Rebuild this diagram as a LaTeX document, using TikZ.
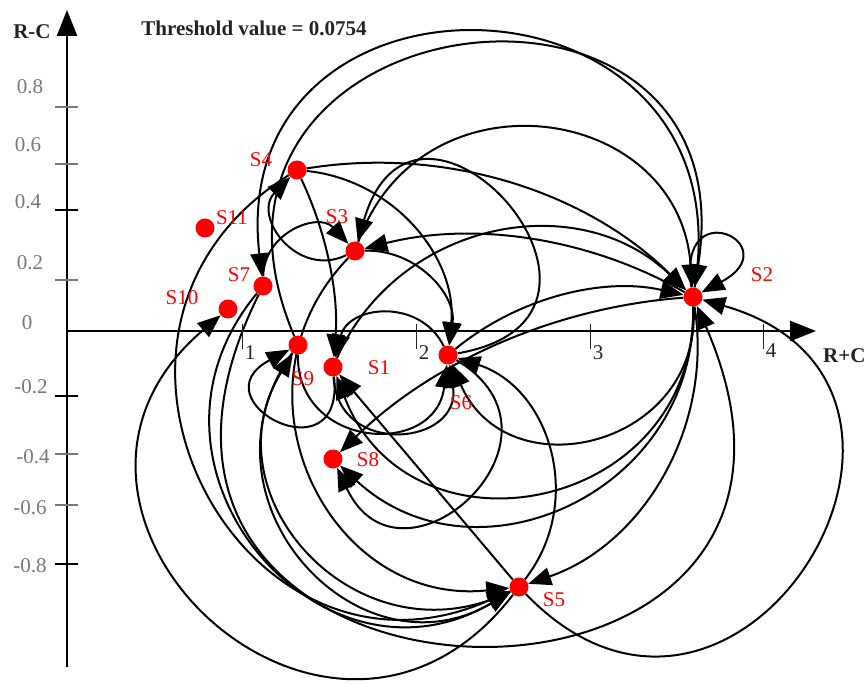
\documentclass[tikz,border=0pt]{standalone}
\usepackage{fontspec}
\setmainfont{Liberation Serif}
\usetikzlibrary{arrows.meta}
\pgfdeclarelayer{bg}
\pgfsetlayers{bg,main}
\definecolor{tickgray}{RGB}{120,120,120}
\definecolor{darktext}{RGB}{35,35,35}
\begin{document}
\begin{tikzpicture}[x=1pt,y=-1pt,
  dot/.style={circle,fill=red,draw=none,inner sep=0pt,minimum size=19pt},
  lab/.style={text=red,font=\fontsize{21}{24}\selectfont,inner sep=0pt},
  ticklab/.style={text=tickgray,font=\fontsize{21}{24}\selectfont,inner sep=0pt},
  axislab/.style={text=darktext,font=\bfseries\fontsize{21}{24}\selectfont,inner sep=0pt},
  edge/.style={line width=2pt,-{Triangle[length=23pt,width=18pt]}},
  axisline/.style={line width=2.5pt,-{Triangle[length=26pt,width=20pt]}},
  tickmark/.style={line width=1.6pt},
  arcb/.code={\pgfmathsetmacro\arcL{(4/3)*tan(abs(#1)/2)/(2*sin(abs(#1)))/0.3915}%
    \edef\arctmp{\noexpand\pgfkeysalso{/tikz/bend left=#1,/tikz/looseness=\arcL}}\arctmp}]
\useasboundingbox (0,0) rectangle (866,684);

% axes
\coordinate (yb) at (67,667);
\coordinate (yt) at (67,10);
\coordinate (xl) at (67,331);
\coordinate (xr) at (816,331);
\draw[axisline] (yb) -- (yt);
\draw[axisline] (xl) -- (xr);

% y ticks
\foreach \yy/\cc in {107/tickgray,164/tickgray,210/black,280/tickgray,396/black,454/tickgray,505/tickgray,564/black}
  \draw[tickmark,draw=\cc] (55,\yy) -- (78,\yy);
\node[ticklab] (t08) at (30,87) {0.8};
\node[ticklab] (t06) at (28,145) {0.6};
\node[ticklab] (t04) at (28,202) {0.4};
\node[ticklab] (t02) at (30,263) {0.2};
\node[ticklab] (t00) at (27,323) {0};
\node[ticklab] (tm02) at (31,387) {-0.2};
\node[ticklab] (tm04) at (33,457) {-0.4};
\node[ticklab] (tm06) at (30,508) {-0.6};
\node[ticklab] (tm08) at (30,566) {-0.8};

% x ticks
\foreach \xx in {242,416,590,763}
  \draw[line width=1pt,draw=darktext] (\xx,324) -- (\xx,349);
\node[ticklab,text=darktext] (x1) at (250,353) {1};
\node[ticklab,text=darktext] (x2) at (424,353) {2};
\node[ticklab,text=darktext] (x3) at (598,353) {3};
\node[ticklab,text=darktext] (x4) at (771,351) {4};

\node[axislab] (rc) at (32,32) {R-C};
\node[axislab,anchor=west] (rpc) at (823,356) {R+C};
\node[axislab] (thr) at (254,28) {Threshold value = 0.0754};

% nodes
\node[dot] (S4) at (297,170) {};
\node[dot] (S11) at (205,228) {};
\node[dot] (S3) at (355,251) {};
\node[dot] (S7) at (263,286) {};
\node[dot] (S10) at (228,309) {};
\node[dot] (S9) at (298,345) {};
\node[dot] (S1) at (333,367) {};
\node[dot] (S6) at (448,355) {};
\node[dot] (S2) at (693,297) {};
\node[dot] (S8) at (333,459) {};
\node[dot] (S5) at (519,587) {};

\node[lab] (L4) at (261,160) {S4};
\node[lab] (L11) at (232,218) {S11};
\node[lab] (L3) at (337,217) {S3};
\node[lab] (L7) at (239,275) {S7};
\node[lab] (L10) at (182,298) {S10};
\node[lab] (L9) at (303,379) {S9};
\node[lab] (L1) at (379,368) {S1};
\node[lab] (L8) at (368,460) {S8};
\node[lab] (L6) at (461,403) {S6};
\node[lab] (L5) at (554,600) {S5};
\node[lab] (L2) at (762,275) {S2};

\begin{pgfonlayer}{bg}
\draw[edge] (S9) to[arcb=106] (S2);
\draw[edge] (S2) to[arcb=-98] (S7);
\draw[edge] (S3) to[arcb=78] (S2);
\draw[edge] (S4) to[arcb=27] (S2);
\draw[edge] (S1) to[arcb=55] (S2);
\draw[edge] (S7) to[arcb=-115] (S2);
\draw[edge] (S6) to[arcb=26] (S2);
\draw[edge] (S5) to[arcb=-105] (S2);
\draw[edge] (S2) .. controls (676,190) and (790,245) .. (S2);
\draw[edge] (S2) to[arcb=-22] (S3);
\draw[edge] (S2) to[arcb=80] (S1);
\draw[edge] (S2) to[arcb=67] (S8);
\draw[edge] (S2) to[arcb=-20] (S8);
\draw[edge] (S2) to[arcb=40] (S5);
\draw[edge] (S2) to[arcb=80] (S6);
\draw[edge] (S4) to[arcb=45] (S6);
\draw[edge] (S3) to[arcb=50] (S6);
\draw[edge] (S9) to[arcb=-87] (S6);
\draw[edge] (S1) to[arcb=-93] (S6);
\draw[edge] (S5) to[arcb=-55] (S6);
\draw[edge] (S6) to[arcb=-122] (S3);
\draw[edge] (S6) to[arcb=-70] (S1);
\draw[edge] (S6) to[arcb=107] (S8);
\draw[edge] (S4) to[arcb=15] (S1);
\draw[edge] (S5) -- (S1);
\draw[edge] (S4) to[arcb=-86] (S5);
\draw[edge] (S7) to[arcb=-80] (S5);
\draw[edge] (S9) to[arcb=-78] (S5);
\draw[edge] (S3) to[arcb=-70] (S5);
\draw[edge] (S5) to[arcb=74] (S9);
\draw[edge] (S5) to[arcb=96] (S10);
\draw[edge] (S1) .. controls (345,480) and (195,400) .. (S9);
\draw[edge] (S7) to[arcb=68] (S3);
\draw[edge] (S3) to[arcb=80] (S4);
\end{pgfonlayer}
\end{tikzpicture}
\end{document}
